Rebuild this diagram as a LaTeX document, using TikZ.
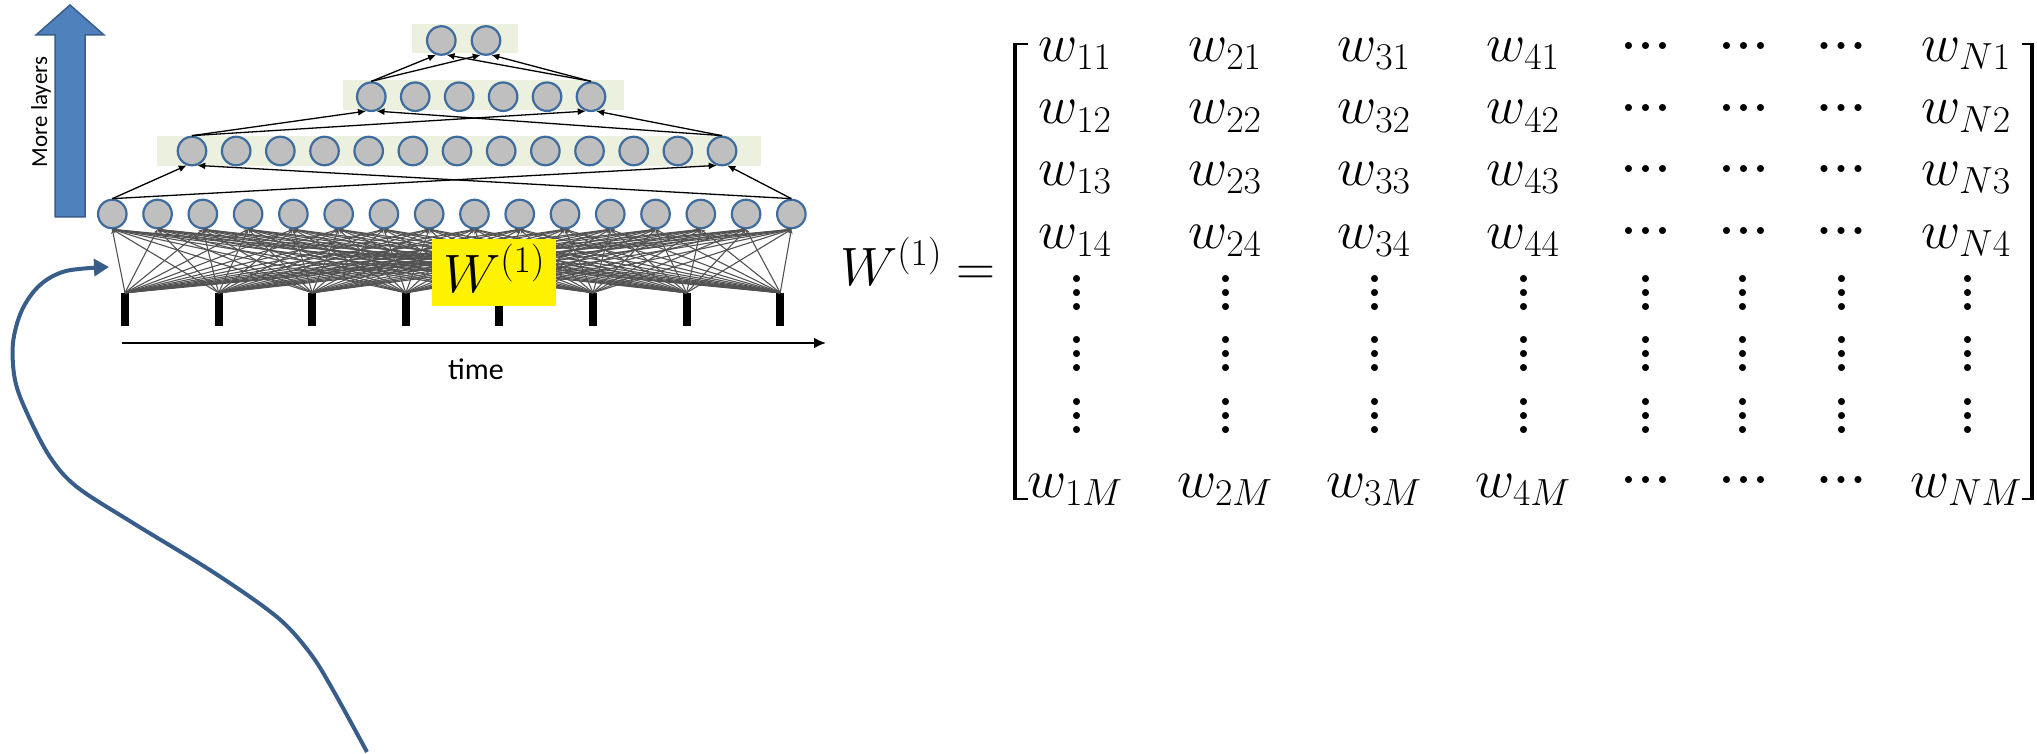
\RequirePackage{fix-cm}
\documentclass[tikz,border=0pt]{standalone}
\usepackage{fontspec}
\newfontfamily\calfont{Carlito}
\usepackage{graphicx}
\usetikzlibrary{arrows.meta}
\definecolor{nfill}{RGB}{191,191,191}
\definecolor{nedge}{RGB}{62,108,158}
\definecolor{lband}{RGB}{235,241,222}
\definecolor{bluearrow}{RGB}{79,129,189}
\definecolor{blueedge}{RGB}{56,93,138}
\definecolor{fangray}{RGB}{82,82,82}
\newcommand\mhdots{\mbox{\fontsize{18}{18}\selectfont${\bullet}\mkern8mu{\bullet}\mkern8mu{\bullet}$}}
\newcommand\mvdots{\rotatebox{90}{\fontsize{18}{18}\selectfont${\bullet}\mkern5mu{\bullet}\mkern5mu{\bullet}$}}
\begin{document}
\begin{tikzpicture}[x=1pt,y=-1pt,
  neuron/.style={circle,draw=nedge,line width=2.2pt,fill=nfill,minimum size=28.5pt,inner sep=0pt},
  band/.style={fill=lband,draw=none,inner sep=0pt},
  inbar/.style={fill=black,draw=none,minimum width=8pt,minimum height=33pt,inner sep=0pt},
  fan/.style={draw=fangray,line width=1.1pt,-{Stealth[length=4.5pt,width=4pt]}},
  link/.style={draw=black,line width=1.3pt,-{Latex[length=8pt,width=7pt]}},
  ent/.style={anchor=base,inner sep=0pt,font=\fontsize{54}{54}\selectfont},
  dotn/.style={inner sep=0pt,anchor=center},
]
\useasboundingbox (0,0) rectangle (2037,754);

% bands
\node[band,minimum width=604pt,minimum height=30pt] (bandB) at (459,151) {};
\node[band,minimum width=281pt,minimum height=30pt] (bandC) at (483.5,95.5) {};
\node[band,minimum width=106pt,minimum height=29pt] (bandD) at (465,38.7) {};

% neurons
\foreach \i in {0,...,15} \node[neuron] (a\i) at ({112.3+45.27*\i},214) {};
\foreach \i in {0,...,12} \node[neuron] (b\i) at ({192+44.17*\i},151) {};
\foreach \i in {0,...,5} \node[neuron] (c\i) at ({371.3+43.94*\i},96.7) {};
\foreach \i in {0,1} \node[neuron] (d\i) at ({441.3+44.7*\i},40.5) {};

% input bars
\foreach \j in {0,...,7} \node[inbar] (x\j) at ({125+93.6*\j},309.5) {};

% fan connections
\foreach \j in {0,...,7} {
  \foreach \i in {0,...,15} { \draw[fan] (x\j.north) -- (a\i.south); }
}

% layer links
\draw[link] (a0.north) -- (b0.250);
\draw[link] (a0.north) -- (b12.250);
\draw[link] (a15.north) -- (b0.290);
\draw[link] (a15.north) -- (b12.290);
\draw[link] (b0.north) -- (c0.250);
\draw[link] (b0.north) -- (c5.250);
\draw[link] (b12.north) -- (c0.290);
\draw[link] (b12.north) -- (c5.290);
\draw[link] (c0.north) -- (d0.250);
\draw[link] (c0.north) -- (d1.250);
\draw[link] (c5.north) -- (d0.290);
\draw[link] (c5.north) -- (d1.290);

% time axis
\coordinate (t0) at (122,343);
\coordinate (t1) at (826,343);
\draw[line width=2.6pt,-{Latex[length=12pt,width=11pt]}] (t0) -- (t1);
\node[font=\calfont\fontsize{30}{30}\selectfont,anchor=base,inner sep=0pt] (tlabel) at (476,379) {time};

% more layers arrow
\draw[fill=bluearrow,draw=blueedge,line width=1.5pt] (55,217) -- (55,35) -- (36,35) -- (70,5) -- (104,35) -- (85,35) -- (85,217) -- cycle;
\node[font=\calfont\fontsize{23}{23}\selectfont,rotate=90,inner sep=0pt] (mlabel) at (41,112) {More layers};

% yellow W label
\node[fill=yellow,inner sep=0pt,minimum width=124pt,minimum height=67pt,text height=53pt,text depth=14pt,font=\fontsize{54}{54}\selectfont] (wbox) at (494,272.5) {$W^{(1)}$};

% curved arrow
\coordinate (cstart) at (367,752);
\coordinate (cend) at (109,267);
\draw[line width=4pt,draw=blueedge,-{Triangle[length=15pt,width=17pt]}] plot[smooth,tension=0.55] coordinates {(367,752) (333,690) (310,653) (277,617) (213,572) (133,523) (77,487) (50,457) (27,413) (15,380) (13,343) (22,310) (40,285) (66,271) (109,267)};

% matrix
\node[anchor=base east,inner sep=0pt,font=\fontsize{54}{54}\selectfont] (wlhs) at (996,285) {$W^{(1)} =$};
\draw[line width=3.5pt] (1015,43) -- (1015,500);
\draw[line width=2pt] (1013.5,44) -- (1028,44) (1013.5,499) -- (1028,499);
\draw[line width=3.5pt] (2032,43) -- (2032,500);
\draw[line width=2pt] (2022,44) -- (2033.5,44) (2022,499) -- (2033.5,499);

\foreach \c/\cx in {1/1075,2/1225,3/1374,4/1523} {
  \foreach \r/\ry in {1/61.7,2/124,3/185.5,4/248} { \node[ent] (w\c\r) at (\cx,\ry) {$w_{\c\r}$}; }
  \node[ent] (w\c M) at (\cx,497) {$w_{\c M}$};
}
\foreach \r/\ry in {1/61.7,2/124,3/185.5,4/248} { \node[ent] (wN\r) at (1966,\ry) {$w_{N\r}$}; }
\node[ent] (wNM) at (1966,497) {$w_{NM}$};

\foreach \cx [count=\k] in {1645.5,1743.5,1841} {
  \foreach \dy [count=\r] in {46.7,108.3,170,231.7,480} { \node[dotn] (h\k-\r) at (\cx,\dy) {\mhdots}; }
}
\foreach \cx [count=\k] in {1077,1226,1375,1524,1646,1743,1842,1968} {
  \foreach \dy [count=\r] in {292.5,354,416} { \node[dotn] (v\k-\r) at (\cx,\dy) {\mvdots}; }
}
\end{tikzpicture}
\end{document}
